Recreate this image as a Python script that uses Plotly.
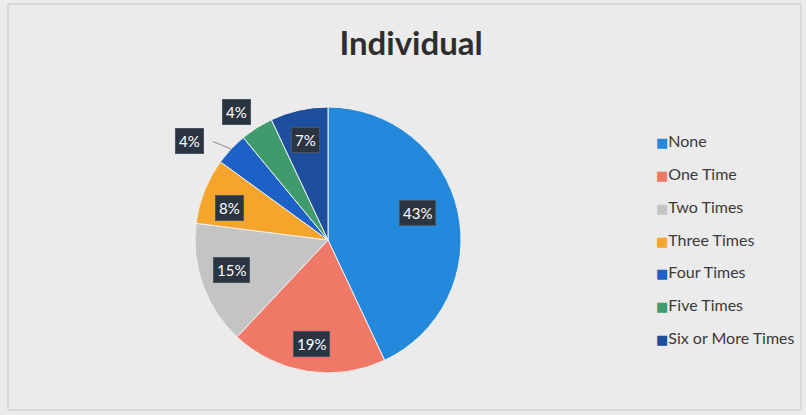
import math
import plotly.graph_objects as go

# Survey responses: how many times, individual
categories = ["None", "One Time", "Two Times", "Three Times",
              "Four Times", "Five Times", "Six or More Times"]
percent = [43, 19, 15, 8, 4, 4, 7]
colors = ["#2389dc", "#f07866", "#c4c4c4", "#f5a42c",
          "#1c62c6", "#3f9a6c", "#1d4f9c"]

W, H = 806, 415
# pie geometry in pixels
cx_px, cy_px, r_px = 328, 240, 133
dom_x = [(cx_px - r_px) / W, (cx_px + r_px) / W]
dom_y = [(H - cy_px - r_px) / H, (H - cy_px + r_px) / H]

fig = go.Figure()
fig.add_trace(go.Pie(
    labels=categories, values=percent, sort=False, direction="clockwise",
    rotation=0, marker=dict(colors=colors, line=dict(color="#f0f0f0", width=1)),
    textinfo="none", hoverinfo="label+percent", showlegend=False,
    domain=dict(x=dom_x, y=dom_y),
))

# legend entries: coloured square glyph sits right next to the text
for name, col in zip(categories, colors):
    fig.add_trace(go.Scatter(
        x=[None], y=[None], mode="markers", legendgroup=name,
        name=(f'<span style="color:{col};font-family:DejaVu Sans;font-size:13px">■</span>'
              f'{name}'),
        marker=dict(symbol="square", size=1, color="rgba(0,0,0,0)"),
    ))


def to_paper(px, py):
    return px / W, 1 - py / H


# data labels: radial placement (fraction of radius) and angular nudge (deg)
radial = [0.70, 0.79, 0.76, 0.775, 1.28, 1.185, 0.77]
ang_shift = [-4, 0, 2.6, -3.6, -7.6, -3.3, 0]
total = sum(percent)
cum = 0
for i, (v, name) in enumerate(zip(percent, categories)):
    mid_raw = (cum + v / 2) / total * 360
    mid = mid_raw + ang_shift[i]
    cum += v
    a = math.radians(mid)
    lx = cx_px + r_px * radial[i] * math.sin(a)
    ly = cy_px - r_px * radial[i] * math.cos(a)
    x, y = to_paper(lx, ly)
    if radial[i] > 1.25:
        # leader line back to the slice edge
        ex = cx_px + r_px * math.sin(math.radians(mid_raw))
        ey = cy_px - r_px * math.cos(math.radians(mid_raw))
        px, py = to_paper(ex, ey)
        fig.add_annotation(x=px, y=py, ax=(lx + 22) - ex, ay=ly - ey,
                           xref="paper", yref="paper", showarrow=True, arrowhead=0,
                           arrowwidth=1, arrowcolor="#8a8a8a", text="")
    fig.add_annotation(
        x=x, y=y, xref="paper", yref="paper", xanchor="center", yanchor="middle",
        text=f"{v}%", font=dict(family="Lato", size=15, color="white"),
        bgcolor="#2b3441", bordercolor="#4a5360", borderwidth=1, borderpad=3,
        showarrow=False,
    )

fig.update_layout(
    width=W, height=H,
    margin=dict(l=0, r=0, t=0, b=0),
    paper_bgcolor="#ecebeb", plot_bgcolor="rgba(0,0,0,0)",
    title=dict(text="<b>Individual</b>", x=0.51, xanchor="center", y=1 - 43 / H,
               yanchor="middle", font=dict(family="Lato", size=33, color="#2e2e2e")),
    xaxis=dict(visible=False), yaxis=dict(visible=False),
    legend=dict(x=616 / W, xanchor="left", y=1 - 124 / H, yanchor="top",
                font=dict(family="Lato", size=16, color="#3a3a3a"),
                tracegroupgap=9, itemwidth=30, bgcolor="rgba(0,0,0,0)"),
    shapes=[dict(type="rect", xref="paper", yref="paper",
                 x0=8 / W, x1=801 / W, y0=1 - 410 / H, y1=1 - 4 / H,
                 line=dict(color="#c9c9c9", width=1), fillcolor="rgba(0,0,0,0)")],
)

fig.write_html("out.html")
